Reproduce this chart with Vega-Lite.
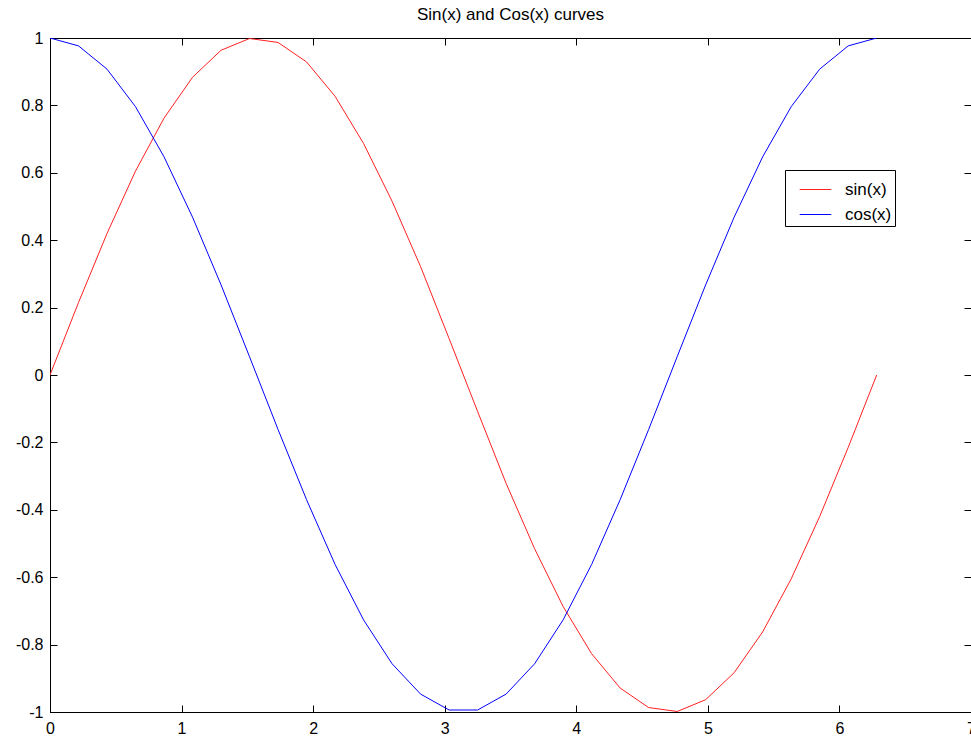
{
  "$schema": "https://vega.github.io/schema/vega-lite/v6.json",
  "autosize": "none",
  "width": 921,
  "height": 674,
  "padding": {"left": 50, "top": 38, "right": 0, "bottom": 26},
  "background": "white",
  "title": {"text": "Sin(x) and Cos(x) curves", "font": "Liberation Sans", "fontSize": 17, "fontWeight": "normal", "color": "black", "offset": 6},
  "config": {
    "view": {"stroke": "black", "strokeWidth": 1},
    "axis": {"grid": false, "domainColor": "black", "tickColor": "black", "labelColor": "black", "labelFont": "Liberation Sans", "labelFontSize": 16, "tickSize": -7, "title": null, "domainWidth": 1, "tickWidth": 1}
  },
  "data": {"values": [
    {"x": 0, "y": 0, "s": "sin(x)"},
    {"x": 0.2167, "y": 0.2150, "s": "sin(x)"},
    {"x": 0.4333, "y": 0.4199, "s": "sin(x)"},
    {"x": 0.6500, "y": 0.6052, "s": "sin(x)"},
    {"x": 0.8666, "y": 0.7622, "s": "sin(x)"},
    {"x": 1.0833, "y": 0.8834, "s": "sin(x)"},
    {"x": 1.3000, "y": 0.9636, "s": "sin(x)"},
    {"x": 1.5166, "y": 0.9985, "s": "sin(x)"},
    {"x": 1.7333, "y": 0.9868, "s": "sin(x)"},
    {"x": 1.9500, "y": 0.9289, "s": "sin(x)"},
    {"x": 2.1666, "y": 0.8271, "s": "sin(x)"},
    {"x": 2.3833, "y": 0.6869, "s": "sin(x)"},
    {"x": 2.6000, "y": 0.5156, "s": "sin(x)"},
    {"x": 2.8166, "y": 0.3216, "s": "sin(x)"},
    {"x": 3.0333, "y": 0.1081, "s": "sin(x)"},
    {"x": 3.2499, "y": -0.1081, "s": "sin(x)"},
    {"x": 3.4666, "y": -0.3216, "s": "sin(x)"},
    {"x": 3.6833, "y": -0.5156, "s": "sin(x)"},
    {"x": 3.8999, "y": -0.6869, "s": "sin(x)"},
    {"x": 4.1166, "y": -0.8271, "s": "sin(x)"},
    {"x": 4.3332, "y": -0.9289, "s": "sin(x)"},
    {"x": 4.5499, "y": -0.9868, "s": "sin(x)"},
    {"x": 4.7666, "y": -0.9985, "s": "sin(x)"},
    {"x": 4.9832, "y": -0.9636, "s": "sin(x)"},
    {"x": 5.1999, "y": -0.8834, "s": "sin(x)"},
    {"x": 5.4165, "y": -0.7622, "s": "sin(x)"},
    {"x": 5.6332, "y": -0.6052, "s": "sin(x)"},
    {"x": 5.8499, "y": -0.4199, "s": "sin(x)"},
    {"x": 6.0665, "y": -0.2150, "s": "sin(x)"},
    {"x": 6.2832, "y": 0, "s": "sin(x)"},
    {"x": 0, "y": 1, "s": "cos(x)"},
    {"x": 0.2167, "y": 0.9766, "s": "cos(x)"},
    {"x": 0.4333, "y": 0.9076, "s": "cos(x)"},
    {"x": 0.6500, "y": 0.7961, "s": "cos(x)"},
    {"x": 0.8666, "y": 0.6474, "s": "cos(x)"},
    {"x": 1.0833, "y": 0.4685, "s": "cos(x)"},
    {"x": 1.3000, "y": 0.2675, "s": "cos(x)"},
    {"x": 1.5166, "y": 0.0541, "s": "cos(x)"},
    {"x": 1.7333, "y": -0.1618, "s": "cos(x)"},
    {"x": 1.9500, "y": -0.3701, "s": "cos(x)"},
    {"x": 2.1666, "y": -0.5621, "s": "cos(x)"},
    {"x": 2.3833, "y": -0.7267, "s": "cos(x)"},
    {"x": 2.6000, "y": -0.8569, "s": "cos(x)"},
    {"x": 2.8166, "y": -0.9469, "s": "cos(x)"},
    {"x": 3.0333, "y": -0.9941, "s": "cos(x)"},
    {"x": 3.2499, "y": -0.9941, "s": "cos(x)"},
    {"x": 3.4666, "y": -0.9469, "s": "cos(x)"},
    {"x": 3.6833, "y": -0.8569, "s": "cos(x)"},
    {"x": 3.8999, "y": -0.7267, "s": "cos(x)"},
    {"x": 4.1166, "y": -0.5621, "s": "cos(x)"},
    {"x": 4.3332, "y": -0.3701, "s": "cos(x)"},
    {"x": 4.5499, "y": -0.1618, "s": "cos(x)"},
    {"x": 4.7666, "y": 0.0541, "s": "cos(x)"},
    {"x": 4.9832, "y": 0.2675, "s": "cos(x)"},
    {"x": 5.1999, "y": 0.4685, "s": "cos(x)"},
    {"x": 5.4165, "y": 0.6474, "s": "cos(x)"},
    {"x": 5.6332, "y": 0.7961, "s": "cos(x)"},
    {"x": 5.8499, "y": 0.9076, "s": "cos(x)"},
    {"x": 6.0665, "y": 0.9766, "s": "cos(x)"},
    {"x": 6.2832, "y": 1, "s": "cos(x)"}
  ]},
  "layer": [
    {
      "mark": {"type": "line", "strokeWidth": 1, "clip": true},
      "encoding": {
        "x": {"field": "x", "type": "quantitative", "scale": {"domain": [0, 7], "nice": false, "zero": false},
              "axis": {"orient": "bottom", "values": [0,1,2,3,4,5,6,7], "labelExpr": "'' + datum.value", "labelPadding": 15, "labelFlush": false, "labelOverlap": false}},
        "y": {"field": "y", "type": "quantitative", "scale": {"domain": [-1, 1], "nice": false, "zero": false},
              "axis": {"orient": "left", "values": [-1,-0.8,-0.6,-0.4,-0.2,0,0.2,0.4,0.6,0.8,1], "labelExpr": "'' + datum.value", "labelPadding": 14, "labelFlush": false, "labelOverlap": false}},
        "color": {"field": "s", "type": "nominal",
                  "scale": {"domain": ["sin(x)", "cos(x)"], "range": ["#ff2020", "#0000ff"]},
                  "legend": {"title": null, "orient": "none", "legendX": 735, "legendY": 132, "symbolType": "stroke", "symbolSize": 1000, "symbolStrokeWidth": 1, "symbolOffset": 11, "labelFont": "Liberation Sans", "labelFontSize": 17, "labelColor": "black", "strokeColor": "black", "fillColor": "white", "padding": 3, "cornerRadius": 0, "rowPadding": 0, "labelOffset": 13}},
        "detail": {"field": "s"}
      }
    },
    {
      "mark": {"type": "rule", "opacity": 0},
      "encoding": {
        "x": {"field": "x", "type": "quantitative", "aggregate": "min",
              "axis": {"orient": "top", "values": [0,1,2,3,4,5,6,7], "labels": false, "domain": true}},
        "y": {"field": "y", "type": "quantitative", "aggregate": "min",
              "axis": {"orient": "right", "values": [-1,-0.8,-0.6,-0.4,-0.2,0,0.2,0.4,0.6,0.8,1], "labels": false, "domain": true}}
      }
    }
  ],
  "resolve": {"axis": {"x": "independent", "y": "independent"}}
}
